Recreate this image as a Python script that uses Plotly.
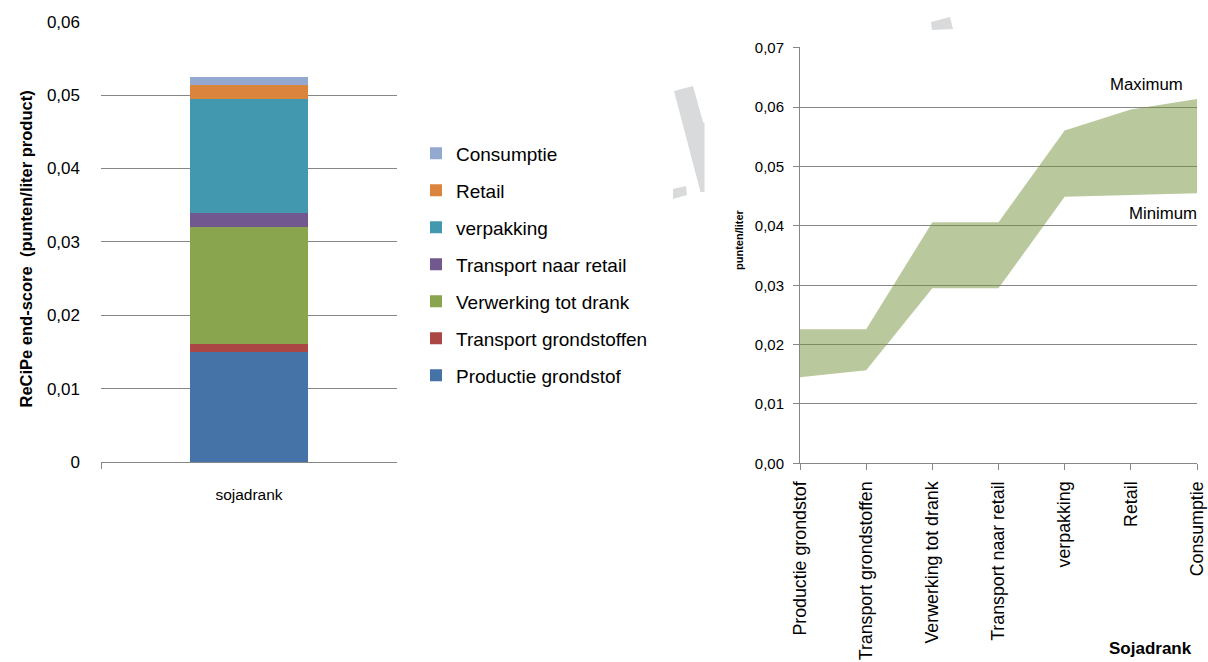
import plotly.graph_objects as go

W, H = 1208, 662

# ---- data: left stacked bar ----
bar_category = ["sojadrank"]
stages = ["Productie grondstof", "Transport grondstoffen", "Verwerking tot drank",
          "Transport naar retail", "verpakking", "Retail", "Consumptie"]
stage_values = [0.0150, 0.0011, 0.0159, 0.0020, 0.0155, 0.0019, 0.0011]
stage_colors = ["#4572A7", "#AA4643", "#89A54E", "#71588F", "#4198AF", "#DB843D", "#93A9CF"]
left_tickvals = [0, 0.01, 0.02, 0.03, 0.04, 0.05, 0.06]
left_ticktext = ["0", "0,01", "0,02", "0,03", "0,04", "0,05", "0,06"]

# ---- data: right band chart ----
band_categories = ["Productie grondstof", "Transport grondstoffen", "Verwerking tot drank",
                   "Transport naar retail", "verpakking", "Retail", "Consumptie"]
band_min = [0.0145, 0.0157, 0.0295, 0.0295, 0.0449, 0.0452, 0.0455]
band_max = [0.0226, 0.0226, 0.0406, 0.0406, 0.0561, 0.0596, 0.0614]
right_tickvals = [0, 0.01, 0.02, 0.03, 0.04, 0.05, 0.06, 0.07]
right_ticktext = ["0,00", "0,01", "0,02", "0,03", "0,04", "0,05", "0,06", "0,07"]

FONT = "Liberation Sans"
GRID = "#868686"
TXT = "#000000"


def px(x, y):
    return x / W, 1 - y / H


fig = go.Figure()

n = len(stages)
for i, (name, val, col) in enumerate(zip(stages, stage_values, stage_colors)):
    fig.add_trace(go.Bar(
        x=bar_category, y=[val], name=name, marker=dict(color=col, line=dict(width=0)),
        xaxis="x", yaxis="y", legendgroup=f"g{i}", legendrank=n - i, width=0.4,
    ))

fig.add_trace(go.Scatter(
    x=band_categories, y=band_min, mode="lines", line=dict(width=0, color="rgba(0,0,0,0)"),
    xaxis="x2", yaxis="y2", showlegend=False, hoverinfo="skip",
))
fig.add_trace(go.Scatter(
    x=band_categories, y=band_max, mode="lines", line=dict(width=0, color="rgba(0,0,0,0)"),
    fill="tonexty", fillcolor="rgba(118,146,60,0.5)",
    xaxis="x2", yaxis="y2", showlegend=False,
))

# domains
lx0, _ = px(101, 0); lx1, _ = px(397, 0)
_, ly0 = px(0, 462); _, ly1 = px(0, 21)
rx0, _ = px(800, 0); rx1, _ = px(1197, 0)
_, ry0 = px(0, 463.3); _, ry1 = px(0, 47.3)

shapes = []
# light grey watermark fragments
wm1 = [(674, 91), (693, 86), (703, 122), (704.5, 123), (704.5, 192), (700.5, 192)]
wm2 = [(673, 189), (686, 186), (687, 195), (673, 199)]
wm3 = [(931, 22), (950, 17), (953, 29), (932, 30)]
for poly in (wm1, wm2, wm3):
    pts = [px(x, y) for x, y in poly]
    path = "M " + " L ".join(f"{a},{b}" for a, b in pts) + " Z"
    shapes.append(dict(type="path", xref="paper", yref="paper", path=path,
                       fillcolor="#D9DADB", line=dict(width=0), layer="below"))

annotations = [
    dict(text="<b>ReCiPe end-score  (punten/liter product)</b>", xref="paper", yref="paper",
         x=px(25, 0)[0], y=px(0, 249.5)[1], textangle=-90, showarrow=False,
         font=dict(family=FONT, size=16.5, color=TXT), xanchor="center", yanchor="middle"),
    dict(text="<b>punten/liter</b>", xref="paper", yref="paper",
         x=px(739, 0)[0], y=px(0, 240)[1], textangle=-90, showarrow=False,
         font=dict(family=FONT, size=11, color=TXT), xanchor="center", yanchor="middle"),
    dict(text="<b>Sojadrank</b>", xref="paper", yref="paper",
         x=px(1150, 0)[0], y=px(0, 648)[1], showarrow=False,
         font=dict(family=FONT, size=17, color=TXT), xanchor="center", yanchor="middle"),
    dict(text="Maximum", xref="paper", yref="paper", x=px(1146, 0)[0], y=px(0, 85)[1],
         showarrow=False, font=dict(family=FONT, size=16.8, color=TXT),
         xanchor="center", yanchor="middle"),
    dict(text="Minimum", xref="paper", yref="paper", x=px(1163, 0)[0], y=px(0, 213)[1],
         showarrow=False, font=dict(family=FONT, size=16.8, color=TXT),
         xanchor="center", yanchor="middle"),
]

fig.update_layout(
    width=W, height=H,
    margin=dict(l=0, r=0, t=0, b=0, autoexpand=False),
    paper_bgcolor="white", plot_bgcolor="rgba(0,0,0,0)",
    barmode="stack",
    font=dict(family=FONT, color=TXT),
    showlegend=True,
    legend=dict(
        x=px(416, 0)[0], y=px(0, 134.5)[1], xanchor="left", yanchor="top",
        traceorder="grouped", tracegroupgap=9.3,
        font=dict(family=FONT, size=19, color=TXT), bgcolor="rgba(0,0,0,0)",
    ),
    xaxis=dict(
        domain=[lx0, lx1], anchor="y", type="category", range=[-0.5, 0.5], automargin=False,
        showline=True, linecolor=GRID, linewidth=1, showgrid=False,
        ticks="outside", tickson="boundaries", ticklen=6, tickcolor=GRID,
        tickfont=dict(family=FONT, size=15.5, color=TXT), ticklabelstandoff=18,
        zeroline=False,
    ),
    yaxis=dict(
        domain=[ly0, ly1], anchor="x", range=[0, 0.0601], automargin=False,
        tickvals=left_tickvals, ticktext=left_ticktext,
        showgrid=True, gridcolor=GRID, gridwidth=1, showline=False, zeroline=False,
        ticks="", tickfont=dict(family=FONT, size=17, color=TXT), ticklabelstandoff=20,
    ),
    xaxis2=dict(
        domain=[rx0, rx1], anchor="y2", type="category", range=[0, 6], automargin=False,
        showline=True, linecolor=GRID, linewidth=1, showgrid=False,
        ticks="outside", ticklen=6, tickcolor=GRID, tickangle=-90,
        tickfont=dict(family=FONT, size=17.8, color=TXT), ticklabelstandoff=4,
        zeroline=False,
    ),
    yaxis2=dict(
        domain=[ry0, ry1], anchor="x2", range=[0, 0.0701], automargin=False,
        tickvals=right_tickvals, ticktext=right_ticktext,
        showgrid=True, gridcolor=GRID, gridwidth=1, showline=True, linecolor=GRID,
        zeroline=False, ticks="outside", ticklen=6, tickcolor=GRID,
        tickfont=dict(family=FONT, size=15, color=TXT), ticklabelstandoff=6,
    ),
    shapes=shapes,
    annotations=annotations,
)

fig.write_html("out.html", config={"displayModeBar": False},
               post_script="document.body.style.margin='0';document.body.style.overflow='hidden';")
